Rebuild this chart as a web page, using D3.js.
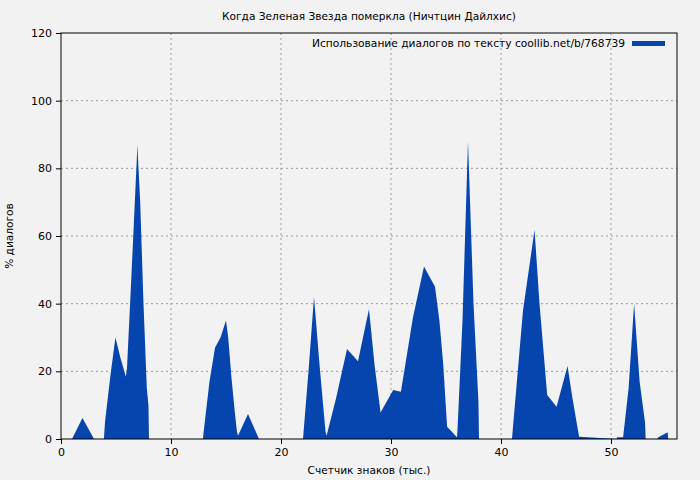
<!DOCTYPE html>
<html>
<head>
<meta charset="utf-8">
<script src="https://cdn.jsdelivr.net/npm/d3@7"></script>
<style>
  body { margin: 0; background: #f2f2f2; }
  svg { font-family: "DejaVu Sans", sans-serif; }
</style>
</head>
<body>
<svg id="chart" width="700" height="480"></svg>
<script>
// key points of the dialog share curve (x in thousands of chars, y in %)
var dialogX = [0, 1.0, 1.95, 3.0, 3.9, 4.0, 4.5, 4.95, 5.4, 5.9, 6.0, 6.4, 6.95, 7.0, 7.2, 7.5, 7.8, 7.95, 8.0,
  12.9, 13.0, 13.5, 14.0, 14.5, 15.0, 15.2, 15.5, 15.8, 16.0, 16.1, 17.0, 18.0,
  22.0, 22.5, 23.0, 23.5, 24.05, 24.15, 25.0, 26.0, 27.0, 28.0, 28.5, 29.05, 30.2, 30.9, 32.0, 33.0, 34.0, 34.4, 34.75, 35.1, 36.0,
  36.05, 36.5, 37.0, 37.5, 37.95, 38.0,
  41.0, 41.1, 42.0, 43.05, 43.5, 44.2, 45.05, 46.05, 46.5, 47.1,
  50.5, 50.55, 51.1, 51.6, 52.1, 52.6, 53.1, 53.15,
  54.2, 54.3, 55.15, 55.2];
var dialogY = [0, 0, 6.2, 0, 0, 5, 19, 30, 24, 18.4, 21, 48, 87, 83, 70, 40, 15, 10, 0,
  0, 3, 17, 27, 30, 35, 30, 18, 8, 2, 1, 7.4, 0,
  0, 20, 42, 22, 2, 1, 12, 26.6, 23, 38.4, 22, 7.8, 14.5, 14, 36, 51, 45, 35, 22, 3.6, 0.5,
  3, 35, 88, 40, 11, 0,
  0, 4, 38, 61.8, 40, 13, 9.5, 21.6, 12, 0.7,
  0, 0.5, 0.5, 15, 40, 17, 4.7, 0,
  0, 0.5, 2, 0];

var xTicks = [0, 10, 20, 30, 40, 50];
var yTicks = [0, 20, 40, 60, 80, 100, 120];

var svg = d3.select("#chart");
var plotLeft = 61, plotRight = 677, plotTop = 33, plotBottom = 439;

var x = d3.scaleLinear().domain([0, 56]).range([plotLeft, plotRight]);
var y = d3.scaleLinear().domain([0, 120]).range([plotBottom, plotTop]);

svg.append("rect").attr("width", 700).attr("height", 480).attr("fill", "#f2f2f2");

// grid
var grid = svg.append("g").attr("stroke", "#999").attr("stroke-dasharray", "2,3").attr("stroke-width", 1);
xTicks.slice(1).forEach(function(t) {
  grid.append("line").attr("x1", x(t)).attr("x2", x(t)).attr("y1", plotTop).attr("y2", plotBottom);
});
yTicks.slice(1, -1).forEach(function(t) {
  grid.append("line").attr("x1", plotLeft).attr("x2", plotRight).attr("y1", y(t)).attr("y2", y(t));
});

// area
var points = dialogX.map(function(d, i) { return [d, dialogY[i]]; });
var area = d3.area()
  .x(function(d) { return x(d[0]); })
  .y0(y(0))
  .y1(function(d) { return y(d[1]); });
svg.append("path").datum(points).attr("d", area).attr("fill", "#0645ad");

// frame
svg.append("rect").attr("x", plotLeft).attr("y", plotTop).attr("width", plotRight - plotLeft).attr("height", plotBottom - plotTop)
  .attr("fill", "none").attr("stroke", "#000");

// axes
var xAxis = svg.append("g").attr("transform", "translate(0," + plotBottom + ")")
  .call(d3.axisBottom(x).tickValues(xTicks).tickSize(5).tickPadding(4));
var yAxis = svg.append("g").attr("transform", "translate(" + plotLeft + ",0)")
  .call(d3.axisLeft(y).tickValues(yTicks).tickSize(5).tickPadding(4));
[xAxis, yAxis].forEach(function(a) {
  a.select(".domain").remove();
  a.selectAll("text").attr("font-size", 11).attr("fill", "#000").attr("font-family", "DejaVu Sans");
});

// texts
svg.append("text").attr("x", 369).attr("y", 20).attr("text-anchor", "middle").attr("font-size", 10.6)
  .text("Когда Зеленая Звезда померкла (Ничтцин Дайлхис)");
svg.append("text").attr("x", 369).attr("y", 474).attr("text-anchor", "middle").attr("font-size", 10.6)
  .text("Счетчик знаков (тыс.)");
svg.append("text").attr("transform", "translate(13,236) rotate(-90)").attr("text-anchor", "middle").attr("font-size", 10.6)
  .text("% диалогов");

// legend
svg.append("text").attr("x", 625).attr("y", 47).attr("text-anchor", "end").attr("font-size", 10.6)
  .attr("textLength", 313).attr("lengthAdjust", "spacingAndGlyphs")
  .text("Использование диалогов по тексту coollib.net/b/768739");
svg.append("rect").attr("x", 632).attr("y", 41).attr("width", 33).attr("height", 5).attr("fill", "#0645ad");
</script>
</body>
</html>
